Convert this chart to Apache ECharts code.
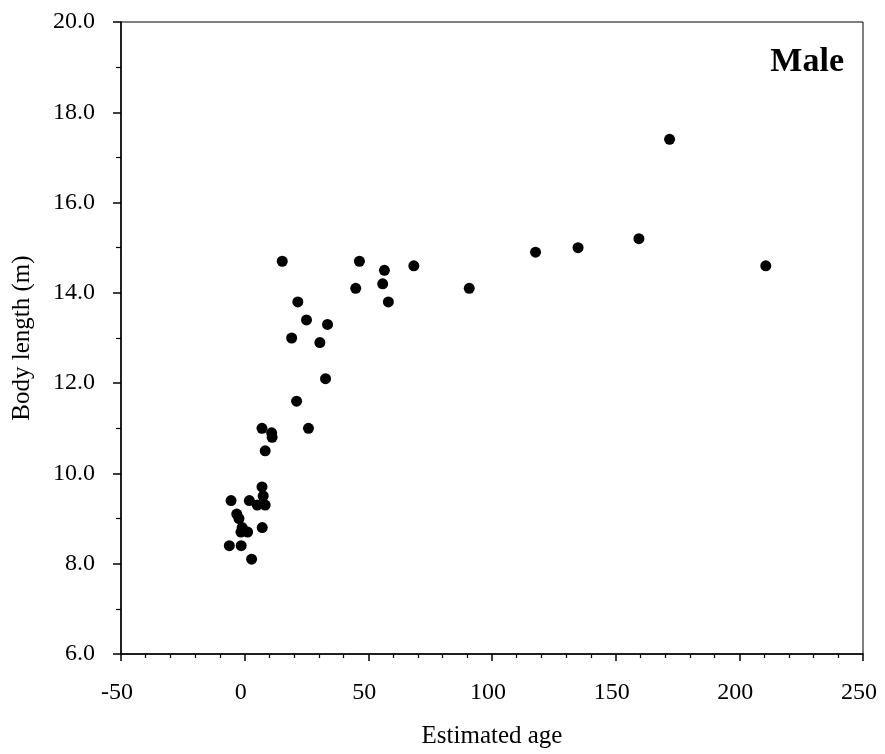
<!DOCTYPE html>
<html>
<head>
<meta charset="utf-8">
<script src="https://cdn.jsdelivr.net/npm/echarts@6/dist/echarts.min.js"></script>
<style>html,body{margin:0;padding:0;background:#fff}#c{width:885px;height:754px}</style>
</head>
<body>
<div id="c"></div>
<script>
const ages = [-6.2, -1.4, 2.8, -1.5, 1.2, -1.0, 7.1, -2.3, -3.2, 5.1, 8.3, -5.5, 1.9, 7.5, 7.0, 8.3, 7.0, 10.9, 11.1, 25.8, 21.0, 32.7, 19.0, 30.4, 25.0, 33.5, 21.5, 58.1, 44.9, 55.8, 15.2, 46.4, 56.5, 68.4, 90.8, 117.6, 134.8, 159.4, 171.8, 210.7];
const lengths = [8.4, 8.4, 8.1, 8.7, 8.7, 8.8, 8.8, 9.0, 9.1, 9.3, 9.3, 9.4, 9.4, 9.5, 9.7, 10.5, 11.0, 10.9, 10.8, 11.0, 11.6, 12.1, 13.0, 12.9, 13.4, 13.3, 13.8, 13.8, 14.1, 14.2, 14.7, 14.7, 14.5, 14.6, 14.1, 14.9, 15.0, 15.2, 17.4, 14.6];
const panelLabel = 'Male';
const xTitle = 'Estimated age';
const yTitle = 'Body length (m)';

const font = '"Liberation Serif", "DejaVu Serif", serif';
const chart = echarts.init(document.getElementById('c'));
chart.setOption({
  backgroundColor: '#fff',
  animation: false,
  title: {
    text: panelLabel, right: 41, top: 45, padding: 0,
    textStyle: { fontFamily: font, fontSize: 34, fontWeight: 'bold', color: '#000' }
  },
  grid: { left: 121, right: 22, top: 22, bottom: 100, show: true, borderColor: '#000', borderWidth: 1, backgroundColor: 'transparent' },
  xAxis: {
    type: 'value', min: -50, max: 250, interval: 50,
    name: xTitle, nameLocation: 'middle', nameGap: 70,
    nameTextStyle: { fontFamily: font, fontSize: 25, color: '#000' },
    axisLine: { onZero: false, lineStyle: { color: '#000', width: 1.5 } },
    axisTick: { inside: false, length: 7, lineStyle: { color: '#000', width: 1.5 } },
    minorTick: { show: true, splitNumber: 5, length: 4, lineStyle: { color: '#000', width: 1.2 } },
    axisLabel: { fontFamily: font, fontSize: 24, color: '#000', margin: 27, padding: [0, 8, 0, 0] },
    splitLine: { show: false }
  },
  yAxis: {
    type: 'value', min: 6, max: 20, interval: 2,
    name: yTitle, nameLocation: 'middle', nameGap: 86, nameRotate: 90,
    nameTextStyle: { fontFamily: font, fontSize: 25, color: '#000' },
    axisLine: { onZero: false, lineStyle: { color: '#000', width: 1.5 } },
    axisTick: { inside: false, length: 8, lineStyle: { color: '#000', width: 1.5 } },
    minorTick: { show: true, splitNumber: 2, length: 5, lineStyle: { color: '#000', width: 1.2 } },
    axisLabel: { fontFamily: font, fontSize: 24, color: '#000', margin: 26, formatter: v => v.toFixed(1) },
    splitLine: { show: false }
  },
  series: [{
    type: 'scatter',
    symbol: 'circle', symbolSize: 11,
    itemStyle: { color: '#000', opacity: 1 },
    data: ages.map((a, i) => [a, lengths[i]])
  }]
});
</script>
</body>
</html>
